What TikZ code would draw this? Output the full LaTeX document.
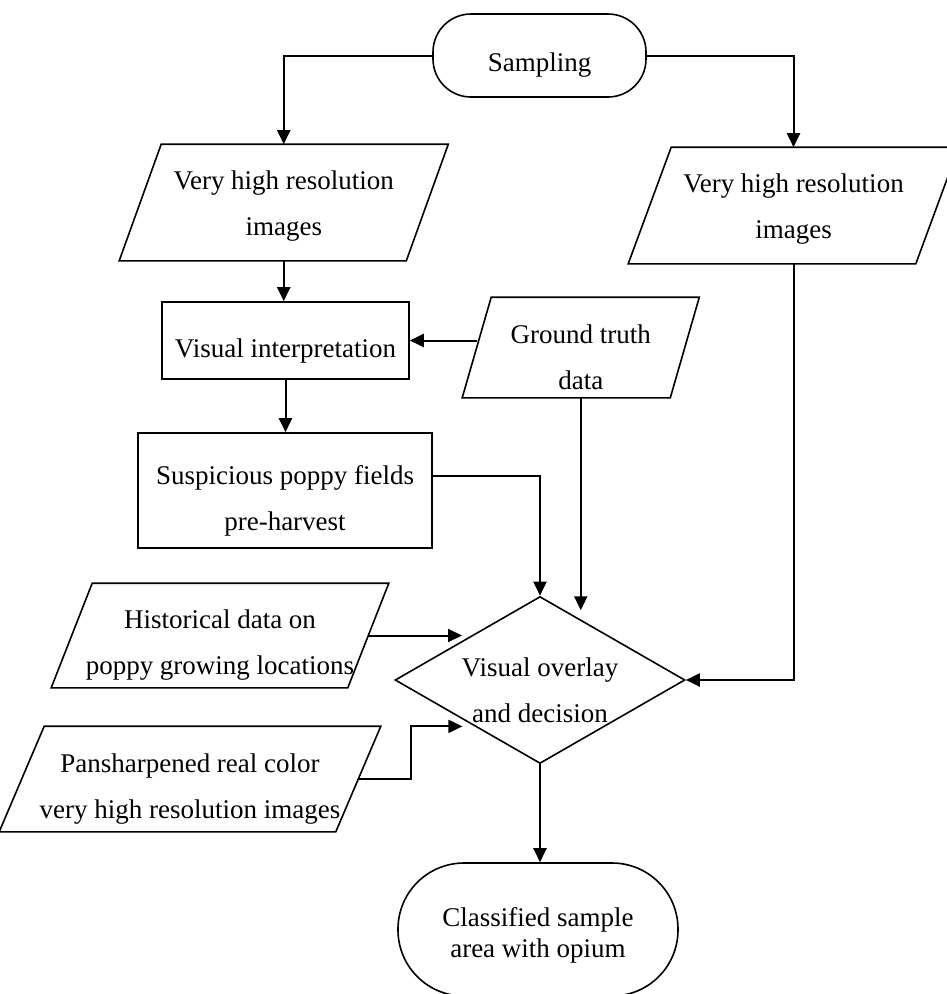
\documentclass[tikz,border=0pt]{standalone}
\usepackage{fontspec}
\setmainfont{Liberation Serif}
\usetikzlibrary{shapes.geometric,arrows.meta,calc}

\begin{document}
\begin{tikzpicture}[x=1pt, y=-1pt,
        every node/.style={line width=1.6pt, inner sep=0pt},
        txt/.style={font=\fontsize{27}{46}\selectfont, align=center, yshift=-10pt},
        arr/.style={line width=2pt, -{Triangle[length=14pt,width=13pt]}},
        term/.style={draw, rectangle, rounded corners=38pt},
        proc/.style={draw, rectangle},
        io/.style={rectangle, append after command={\pgfextra{\draw[line width=1.6pt]
            ([xshift=#1pt]\tikzlastnode.north west) -- ([xshift=#1pt]\tikzlastnode.north east)
            -- ([xshift=-#1pt]\tikzlastnode.south east) -- ([xshift=-#1pt]\tikzlastnode.south west) -- cycle;}}}]
        \useasboundingbox (0,0) rectangle (947,994);
        \clip (0,0) rectangle (947,994);
        \node[term, minimum width=213, minimum height=83, label={[txt]center:Sampling}] (samp) at (539.5,55.5) {};
        \node[io=21, minimum width=285.5, minimum height=115, label={[txt, yshift=6pt]center:{Very high resolution\\images}}] (vhrL) at (283.75,202.5) {};
        \node[io=21.5, minimum width=286, minimum height=115, label={[txt, yshift=6pt]center:{Very high resolution\\images}}] (vhrR) at (793.5,205.5) {};
        \node[proc, minimum width=247, minimum height=77, label={[txt]center:Visual interpretation}] (vi) at (285.5,340.5) {};
        \node[io=14.5, minimum width=206.5, minimum height=99, label={[txt]center:{Ground truth\\data}}] (gt) at (580.75,347.5) {};
        \node[proc, minimum width=294, minimum height=115, label={[txt]center:{Suspicious poppy fields\\pre-harvest}}] (sus) at (285,490.5) {};
        \node[io=20.5, minimum width=295, minimum height=103, label={[txt]center:{Historical data on\\poppy growing locations}}] (hist) at (220,635.5) {};
        \node[io=22.5, minimum width=335, minimum height=104, label={[txt]center:{Pansharpened real color\\very high resolution images}}] (pan) at (190,779) {};
        \node[draw, diamond, minimum width=290, minimum height=167, label={[txt]center:{Visual overlay\\and decision}}] (dia) at (540,680) {};
        \node[term, rounded corners=66pt, minimum width=280, minimum height=133, label={[txt, yshift=4pt, font=\fontsize{27}{31}\selectfont]center:{Classified sample\\area with opium}}] (fin) at (538,929.5) {};
        \coordinate (dia-g) at ($(dia.north)!0.28!(dia.east)$);
        \coordinate (dia-h) at ($(dia.west)!0.52!(dia.north)$);
        \coordinate (dia-p) at ($(dia.west)!0.55!(dia.south)$);
        \draw[arr] (samp.west) -| (vhrL.north);
        \draw[arr] (samp.east) -| (vhrR.north);
        \draw[arr] (vhrL.south) -- (vhrL.south |- vi.north);
        \draw[arr] (vi.south) -- (vi.south |- sus.north);
        \draw[arr] (vi.east -| gt.west) -- (vi.east);
        \draw[arr] ([yshift=-44pt]sus.north east) -| (dia.north);
        \draw[arr, shorten >=9pt] (gt.south) -- (gt.south |- dia-g);
        \draw[arr, shorten >=8pt] (hist.east) -- (hist.east -| dia-h);
        \draw[arr, shorten >=12pt] (pan.east) -- ++(53,0) |- (dia-p);
        \draw[arr] (vhrR.south) |- (dia.east);
        \draw[arr] (dia.south) -- (dia.south |- fin.north);
    \end{tikzpicture}
\end{document}
